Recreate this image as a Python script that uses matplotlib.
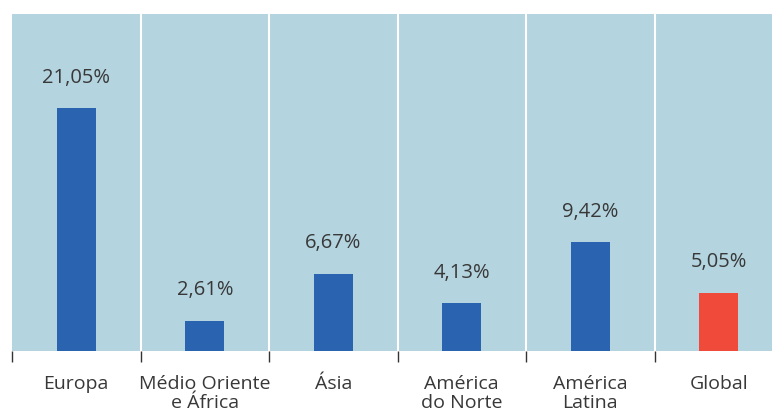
import matplotlib.pyplot as plt
import numpy as np

categories = ['Europa', 'Médio Oriente\ne África', 'Ásia', 'América\ndo Norte', 'América\nLatina', 'Global']
values = [21.05, 2.61, 6.67, 4.13, 9.42, 5.05]
labels = ['21,05%', '2,61%', '6,67%', '4,13%', '9,42%', '5,05%']
colors = ['#2a63b0'] * 5 + ['#ef4a3a']

plt.rcParams['font.family'] = ['Open Sans', 'DejaVu Sans']

fig = plt.figure(figsize=(7.72, 4.11), dpi=100)
# plot area runs a little past the right edge of the image
ax = fig.add_axes([12 / 772, 60 / 411, 771 / 772, 337 / 411])
ax.set_facecolor('#b4d4e0')

x = np.arange(len(categories))
ax.bar(x, values, width=0.30, color=colors, zorder=3)

# white separators between regions
for b in np.arange(0.5, len(categories) - 0.5):
    ax.axvline(b, color='white', lw=1.5, zorder=2)

for xi, v, lab in zip(x, values, labels):
    ax.annotate(lab, (xi, v), xytext=(0, 22), textcoords='offset points',
                ha='center', va='center', fontsize=14.5, color='#383838')

ax.set_xlim(-0.5, len(categories) - 0.5)
ax.set_ylim(0, 29.2)

# major ticks on the boundaries, labels on minor ticks at centres
ax.set_xticks(np.arange(-0.5, len(categories) - 0.5))
ax.set_xticklabels([])
ax.tick_params(axis='x', which='major', length=8, width=1, color='#333333', direction='out')
ax.set_xticks(x, minor=True)
ax.set_xticklabels(categories, minor=True, fontsize=14, color='#383838', linespacing=1.1)
ax.tick_params(axis='x', which='minor', length=0, pad=17)
ax.set_yticks([])
for s in ax.spines.values():
    s.set_visible(False)

fig.savefig('out.png', dpi=100)
